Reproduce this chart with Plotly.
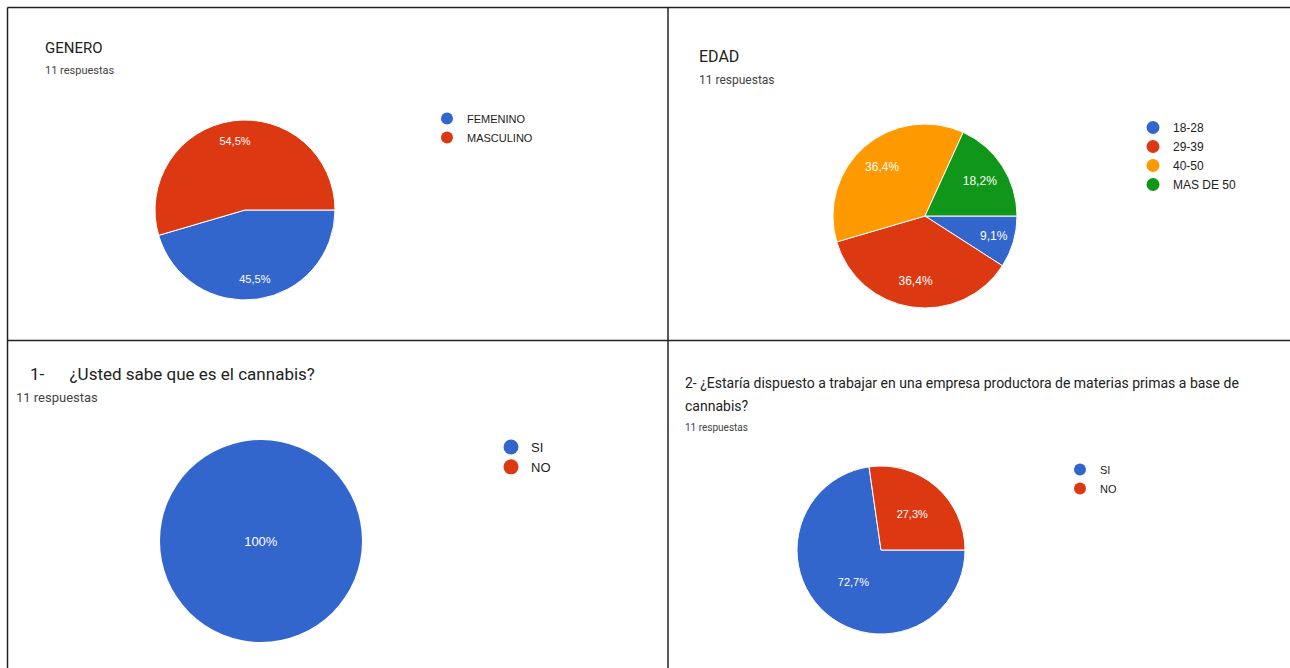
import plotly.graph_objects as go

W, H = 1290, 668

# ---------------- data ----------------
genero_labels = ["FEMENINO", "MASCULINO"]
genero_values = [5, 6]

edad_labels = ["18-28", "29-39", "40-50", "MAS DE 50"]
edad_values = [1, 4, 4, 2]

q1_labels = ["SI", "NO"]
q1_values = [11, 0]

q2_labels = ["SI", "NO"]
q2_values = [8, 3]

blue, red, orange, green = "#3366cc", "#dc3912", "#ff9900", "#109618"
palette = [blue, red, orange, green]


def pct_text(vals):
    tot = sum(vals)
    out = []
    for v in vals:
        if v == 0:
            out.append("")
            continue
        p = round(v / tot * 100, 1)
        if p == int(p):
            out.append(f"{int(p)}%")
        else:
            out.append(f"{p:.1f}".replace(".", ",") + "%")
    return out


def dom(cx, cy, r):
    return dict(x=[(cx - r) / W, (cx + r) / W], y=[1 - (cy + r) / H, 1 - (cy - r) / H])


fig = go.Figure()

charts = [
    # labels, values, center x, center y, radius, label font size, label ring hole (None = plain), slice line
    (genero_labels, genero_values, 245, 210, 90, 11, 0.55, 1),
    (edad_labels, edad_values, 925, 216, 92, 12, 0.42, 1),
    (q1_labels, q1_values, 261, 541, 101, 13, None, 0),
    (q2_labels, q2_values, 881, 550, 84, 11, None, 1),
]

lab_font = "Liberation Sans, Arial"
for labels, values, cx, cy, r, fs, hole, lw in charts:
    texts = pct_text(values)
    # coloured pie
    fig.add_trace(go.Pie(
        labels=labels, values=values, sort=False, direction="clockwise", rotation=90,
        marker=dict(colors=palette[:len(labels)], line=dict(color="white", width=lw)),
        text=texts, texttemplate="%{text}" if hole is None else "",
        textposition="inside" if hole is None else "none",
        insidetextorientation="horizontal",
        insidetextfont=dict(color="white", size=fs, family=lab_font),
        domain=dom(cx, cy, r), showlegend=False, hoverinfo="label+percent",
    ))
    if hole is not None:
        # transparent ring overlay that carries the percentage labels further out
        fig.add_trace(go.Pie(
            labels=labels, values=values, sort=False, direction="clockwise", rotation=90,
            hole=hole,
            marker=dict(colors=["rgba(0,0,0,0)"] * len(labels), line=dict(width=0)),
            text=texts, texttemplate="%{text}", textposition="inside",
            insidetextorientation="horizontal",
            insidetextfont=dict(color="white", size=fs, family=lab_font),
            domain=dom(cx, cy, r), showlegend=False, hoverinfo="skip",
        ))

# legend entries (circle markers) for each chart
legend_specs = [
    ("legend", genero_labels, 11, 8),
    ("legend2", edad_labels, 12, 9),
    ("legend3", q1_labels, 13, 11),
    ("legend4", q2_labels, 11, 8),
]
for lg, labels, fs, ms in legend_specs:
    for i, lab in enumerate(labels):
        fig.add_trace(go.Scatter(
            x=[None], y=[None], mode="markers", name=lab,
            marker=dict(color=palette[i], size=ms + 4, symbol="circle"),
            legend=lg, showlegend=True, hoverinfo="skip",
        ))


def lgd(tx, ty, fs):
    # tx: text left pixel, ty: top pixel of first row
    return dict(
        x=(tx - 40) / W, y=1 - ty / H, xanchor="left", yanchor="top",
        bgcolor="rgba(0,0,0,0)", borderwidth=0,
        font=dict(family=lab_font, size=fs, color="#222222"),
        itemclick=False, itemdoubleclick=False, tracegroupgap=0,
    )


fig.update_layout(
    width=W, height=H,
    margin=dict(l=0, r=0, t=0, b=0),
    paper_bgcolor="white", plot_bgcolor="white",
    xaxis=dict(visible=False), yaxis=dict(visible=False),
    legend=lgd(467, 104, 11),
    legend2=lgd(1173, 113, 12),
    legend3=lgd(531, 432, 13),
    legend4=lgd(1100, 455, 11),
)

title_font = "Roboto, Liberation Sans, Arial"
annos = [
    ("GENERO", 43, 48, 15, "#222222"),
    ("11 respuestas", 43, 71, 11, "#444444"),
    ("EDAD", 697, 57, 16, "#222222"),
    ("11 respuestas", 697, 80, 12, "#444444"),
    ("1-      ¿Usted sabe que es el cannabis?", 28, 374, 17, "#222222"),
    ("11 respuestas", 14, 397, 13, "#444444"),
    ("2- ¿Estaría dispuesto a trabajar en una empresa productora de materias primas a base de", 683, 383, 14, "#222222"),
    ("cannabis?", 683, 406, 14, "#222222"),
    ("11 respuestas", 683, 427, 10, "#444444"),
]
for txt, x, y, fs, col in annos:
    fig.add_annotation(
        text=txt, x=x / W, y=1 - y / H, xref="paper", yref="paper",
        xanchor="left", yanchor="middle", showarrow=False,
        font=dict(family=title_font, size=fs, color=col),
    )

# panel borders
line = dict(color="#222222", width=1.5)
for x0, y0, x1, y1 in [
    (7.5, 7.5, W, 7.5),
    (7.5, 7.5, 7.5, H),
    (668, 7.5, 668, H),
    (7.5, 340.5, W, 340.5),
]:
    fig.add_shape(type="line", xref="paper", yref="paper",
                  x0=x0 / W, x1=x1 / W, y0=1 - y0 / H, y1=1 - y1 / H, line=line)

fig.write_html("out.html")
